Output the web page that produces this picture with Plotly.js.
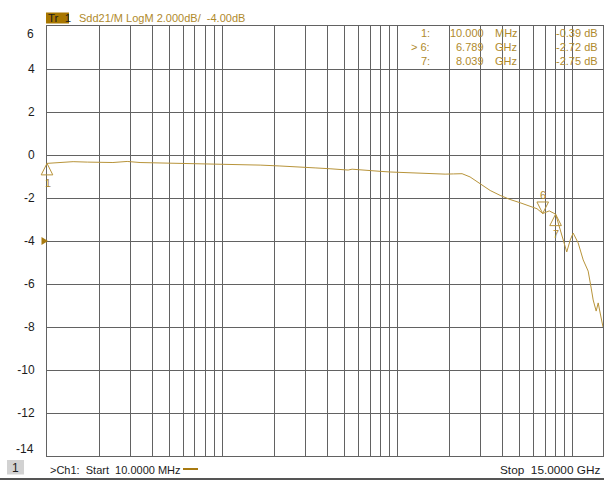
<!DOCTYPE html>
<html>
<head>
<meta charset="utf-8">
<script src="https://cdn.plot.ly/plotly-3.0.1.min.js"></script>
<style>
  html, body { margin: 0; padding: 0; background: #ffffff; }
  #chart { width: 604px; height: 481px; }
</style>
</head>
<body>
<div id="chart"></div>
<script>
// Sdd21 sweep, 10 MHz .. 15 GHz (frequency in MHz, magnitude in dB)
const freqMHz = [10, 11.9, 14.1, 17, 20.1, 23.8, 28.7, 34, 44.2, 53.9, 65, 74.9, 90, 111, 135, 165, 214,
  279, 340, 414, 525, 553, 620, 701, 800, 912, 1050, 1186, 1544, 1880, 2100, 2350, 2610, 2980, 3400,
  3880, 4420, 5040, 5750, 6300, 6789, 7400, 8039, 8530, 8890, 9310, 9750, 10130, 10820, 11560, 12340,
  12840, 13180, 13710, 14080, 14450, 15000];
const sdd21dB = [-0.39, -0.34, -0.31, -0.33, -0.33, -0.35, -0.30, -0.35, -0.37, -0.38, -0.39, -0.42, -0.41,
  -0.44, -0.45, -0.47, -0.51, -0.58, -0.60, -0.64, -0.70, -0.66, -0.70, -0.74, -0.76, -0.79, -0.81, -0.84,
  -0.87, -0.89, -0.88, -0.87, -1.02, -1.35, -1.65, -1.88, -2.07, -2.22, -2.37, -2.50, -2.72, -2.60, -2.75,
  -3.40, -3.95, -4.51, -3.95, -3.63, -4.09, -4.88, -5.40, -6.19, -6.74, -7.26, -6.88, -7.35, -8.00];

// Markers
const markerIds = ['1', '6', '7'];
const markerFreqMHz = [10, 6789, 8039];
const markerdB = [-0.39, -2.72, -2.75];
const markerFreqText = ['10.000', '6.789', '8.039'];
const markerUnitText = ['MHz', 'GHz', 'GHz'];
const markerRowText = ['1:', '> 6:', '7:'];
const markerBelow = [true, false, true];

// Axis settings
const startMHz = 10;
const stopMHz = 15000;
const yTicks = [-14, -12, -10, -8, -6, -4, -2, 0, 2, 4, 6];
const refLevel = -4;

const W = 604, H = 481;
const M = { l: 47, r: 1, t: 26, b: 25 };
const plotW = W - M.l - M.r, plotH = H - M.t - M.b;
const px = x => (x - M.l) / plotW;       // pixel column -> paper x
const py = y => (H - M.b - y) / plotH;   // pixel row -> paper y
// frequency -> paper x on the log sweep axis (same mapping as xaxis)
const fx = f => (Math.log10(f) - Math.log10(startMHz)) / (Math.log10(stopMHz) - Math.log10(startMHz));

const GOLD = '#b8943a';
const GOLD_TXT = '#b08a2c';
const GRID = '#626262';
const FONT = 'Arial, "Liberation Sans", sans-serif';

// Log grid: 1..9 per decade
const gridVals = [];
for (let d = 10; d <= stopMHz; d *= 10) {
  for (let m = 1; m <= 9; m++) {
    if (d * m >= startMHz && d * m <= stopMHz) gridVals.push(d * m);
  }
}

const traces = [{
  type: 'scatter', mode: 'lines',
  x: freqMHz, y: sdd21dB,
  line: { color: GOLD, width: 1 },
  hoverinfo: 'skip', showlegend: false
}];

const shapes = [];
const annotations = [];

// Marker triangles (apex on the trace) and their numbers
markerIds.forEach((id, i) => {
  const below = markerBelow[i];
  shapes.push({
    type: 'path', xref: 'paper', yref: 'y',
    xsizemode: 'pixel', ysizemode: 'pixel',
    xanchor: fx(markerFreqMHz[i]), yanchor: markerdB[i],
    path: below ? 'M0,0 L-5.8,-11.5 L5.8,-11.5 Z' : 'M0,0 L-5.8,11.5 L5.8,11.5 Z',
    line: { color: GOLD, width: 1 }, fillcolor: 'rgba(0,0,0,0)', layer: 'above'
  });
  annotations.push({
    xref: 'x', yref: 'y', x: Math.log10(markerFreqMHz[i]), y: markerdB[i],
    text: id, showarrow: false, xanchor: 'center', yanchor: 'middle',
    yshift: below ? -20 : 18, xshift: 0.5,
    font: { family: FONT, size: 11, color: GOLD_TXT }
  });
});

// Reference level pointer on the left edge
shapes.push({
  type: 'path', xref: 'paper', yref: 'y',
  xsizemode: 'pixel', ysizemode: 'pixel', xanchor: 0, yanchor: refLevel,
  path: 'M-5.5,4 L1,0 L-5.5,-4 Z',
  line: { color: '#a87a10', width: 0 }, fillcolor: '#a87a10'
});

// Header: trace tag and trace description
shapes.push({
  type: 'rect', xref: 'paper', yref: 'paper',
  x0: px(46), x1: px(69), y0: py(23.5), y1: py(12.5),
  fillcolor: '#a87700', line: { width: 0 }
});
annotations.push({
  xref: 'paper', yref: 'paper', x: px(46), y: py(18.5), xanchor: 'left', yanchor: 'middle',
  text: 'Tr&nbsp;&nbsp;1', showarrow: false, font: { family: FONT, size: 11.5, color: '#1c1c1c' }
});
annotations.push({
  xref: 'paper', yref: 'paper', x: px(76.5), y: py(18.5), xanchor: 'left', yanchor: 'middle',
  text: 'Sdd21/M LogM 2.000dB/&nbsp;&nbsp;-4.00dB', showarrow: false,
  font: { family: FONT, size: 11, color: GOLD_TXT }
});

// Marker readout table
markerIds.forEach((id, i) => {
  const rowY = py(33 + i * 14);
  const f = { family: FONT, size: 11, color: GOLD_TXT };
  annotations.push({ xref: 'paper', yref: 'paper', x: px(432), y: rowY, xanchor: 'right', yanchor: 'middle',
    text: markerRowText[i].replace(' ', '&nbsp;'), showarrow: false, font: f });
  annotations.push({ xref: 'paper', yref: 'paper', x: px(486), y: rowY, xanchor: 'right', yanchor: 'middle',
    text: markerFreqText[i], showarrow: false, font: f });
  annotations.push({ xref: 'paper', yref: 'paper', x: px(493), y: rowY, xanchor: 'left', yanchor: 'middle',
    text: markerUnitText[i], showarrow: false, font: f });
  annotations.push({ xref: 'paper', yref: 'paper', x: px(600), y: rowY, xanchor: 'right', yanchor: 'middle',
    text: markerdB[i].toFixed(2) + ' dB', showarrow: false, font: f });
});

// End labels of the amplitude scale sit just inside the frame
annotations.push({ xref: 'paper', yref: 'paper', x: px(36), y: py(34), xanchor: 'right', yanchor: 'middle',
  text: String(yTicks[yTicks.length - 1]), showarrow: false, font: { family: FONT, size: 12, color: '#1c1c1c' } });
annotations.push({ xref: 'paper', yref: 'paper', x: px(36), y: py(449), xanchor: 'right', yanchor: 'middle',
  text: String(yTicks[0]), showarrow: false, font: { family: FONT, size: 12, color: '#1c1c1c' } });

// Footer: channel box, start / stop
shapes.push({
  type: 'rect', xref: 'paper', yref: 'paper',
  x0: px(7), x1: px(24), y0: py(474.5), y1: py(460),
  fillcolor: '#d2d2d2', line: { width: 0 }
});
annotations.push({ xref: 'paper', yref: 'paper', x: px(15.5), y: py(467.5), xanchor: 'center', yanchor: 'middle',
  text: '1', showarrow: false, font: { family: FONT, size: 12, color: '#1c1c1c' } });
annotations.push({ xref: 'paper', yref: 'paper', x: px(47.5), y: py(470.5), xanchor: 'left', yanchor: 'middle',
  text: '&gt;Ch1:&nbsp;&nbsp;Start&nbsp;&nbsp;' + startMHz.toFixed(4) + ' MHz', showarrow: false,
  font: { family: FONT, size: 11, color: '#1c1c1c' } });
shapes.push({
  type: 'line', xref: 'paper', yref: 'paper',
  x0: px(183), x1: px(198), y0: py(469), y1: py(469),
  line: { color: '#a87a10', width: 2 }
});
annotations.push({ xref: 'paper', yref: 'paper', x: px(602), y: py(470.5), xanchor: 'right', yanchor: 'middle',
  text: 'Stop&nbsp;&nbsp;' + (stopMHz / 1000).toFixed(4) + ' GHz', showarrow: false,
  font: { family: FONT, size: 11.8, color: '#1c1c1c' } });
shapes.push({
  type: 'line', xref: 'paper', yref: 'paper',
  x0: px(0), x1: px(604), y0: py(479), y1: py(479),
  line: { color: '#555555', width: 2 }
});

const layout = {
  width: W, height: H,
  margin: { l: M.l, r: M.r, t: M.t, b: M.b, pad: 0 },
  paper_bgcolor: '#ffffff', plot_bgcolor: '#ffffff',
  showlegend: false,
  font: { family: FONT, size: 12, color: '#1c1c1c' },
  xaxis: {
    type: 'log', range: [Math.log10(startMHz), Math.log10(stopMHz)],
    tickmode: 'array', tickvals: gridVals, showticklabels: false, ticks: '',
    showgrid: true, gridcolor: GRID, gridwidth: 1,
    showline: true, linecolor: GRID, linewidth: 1, mirror: true,
    zeroline: false, fixedrange: true
  },
  yaxis: {
    range: [yTicks[0], yTicks[yTicks.length - 1]],
    tickmode: 'array', tickvals: yTicks,
    ticktext: yTicks.map((v, i) => (i === 0 || i === yTicks.length - 1) ? '' : String(v)),
    ticks: '', ticklabelstandoff: 9,
    tickfont: { family: FONT, size: 12, color: '#1c1c1c' },
    showgrid: true, gridcolor: GRID, gridwidth: 1,
    showline: true, linecolor: GRID, linewidth: 1, mirror: true,
    zeroline: false, fixedrange: true
  },
  shapes: shapes,
  annotations: annotations
};

Plotly.newPlot('chart', traces, layout, { staticPlot: true, displayModeBar: false });
</script>
</body>
</html>
